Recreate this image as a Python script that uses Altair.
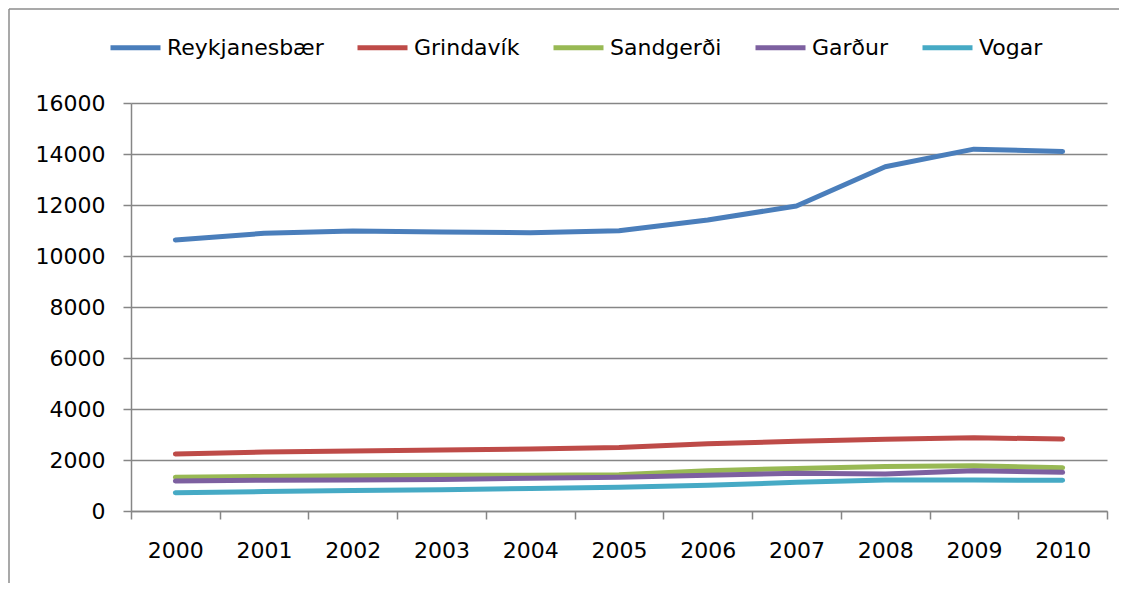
import altair as alt
import pandas as pd

years = ["2000", "2001", "2002", "2003", "2004", "2005", "2006", "2007", "2008", "2009", "2010"]
series_names = ["Reykjanesbær", "Grindavík", "Sandgerði", "Garður", "Vogar"]
reykjanesbaer = [10630, 10890, 10980, 10940, 10915, 10990, 11410, 11960, 13500, 14190, 14100]
grindavik = [2235, 2315, 2350, 2390, 2430, 2490, 2640, 2735, 2810, 2870, 2825]
sandgerdi = [1320, 1355, 1385, 1400, 1400, 1420, 1580, 1670, 1745, 1775, 1700]
gardur = [1175, 1205, 1215, 1240, 1280, 1320, 1400, 1480, 1450, 1580, 1515]
vogar = [720, 760, 800, 835, 885, 930, 1010, 1125, 1215, 1215, 1205]
colors = ["#4A7EBB", "#BE4B48", "#98B954", "#7D60A0", "#46AAC5"]

rows = []
for name, vals in zip(series_names, [reykjanesbaer, grindavik, sandgerdi, gardur, vogar]):
    for y, v in zip(years, vals):
        rows.append({"Ár": y, "Sveitarfélag": name, "Íbúar": v})
df = pd.DataFrame(rows)

FONT = "DejaVu Sans"
GRAY = "#868686"
W, H = 976, 408

lines = alt.Chart(df).mark_line(strokeWidth=5, strokeCap="round", strokeJoin="round").encode(
    x=alt.X("Ár:O", sort=years, bandPosition=0.5,
            scale=alt.Scale(type="band", paddingInner=0, paddingOuter=0),
            axis=alt.Axis(title=None, labelAngle=0, tickBand="extent", grid=False,
                          domainColor=GRAY, domainWidth=1.5, tickColor=GRAY, tickWidth=1.5,
                          tickSize=8, labelPadding=21, labelFont=FONT, labelFontSize=22,
                          labelColor="#000000")),
    y=alt.Y("Íbúar:Q", scale=alt.Scale(domain=[0, 16000], nice=False),
            axis=alt.Axis(title=None, values=list(range(0, 16001, 2000)), format="d",
                          grid=True, gridColor=GRAY, gridWidth=1.3,
                          domainColor=GRAY, domainWidth=1.5, tickColor=GRAY, tickWidth=1.5,
                          tickSize=8, labelPadding=18, labelFont=FONT, labelFontSize=22,
                          labelColor="#000000")),
    color=alt.Color("Sveitarfélag:N", sort=series_names,
                    scale=alt.Scale(domain=series_names, range=colors),
                    legend=alt.Legend(title=None, orient="none", legendX=-23, legendY=-83,
                                      direction="horizontal", symbolType="stroke",
                                      symbolSize=2500, symbolStrokeWidth=5,
                                      labelFont=FONT, labelFontSize=22, labelColor="#000000",
                                      labelOffset=4, columnPadding=23, labelLimit=300)),
)

frame_data = alt.Data(values=[{}])
frame_left = alt.Chart(frame_data).mark_rule(stroke="#8c8c8c", strokeWidth=1.5).encode(
    x=alt.value(-122), y=alt.value(-94), y2=alt.value(520)
)
frame_top = alt.Chart(frame_data).mark_rule(stroke="#8c8c8c", strokeWidth=1.5).encode(
    x=alt.value(-122), x2=alt.value(1020), y=alt.value(-94)
)

chart = alt.layer(frame_left, frame_top, lines).properties(
    width=W, height=H,
    autosize=alt.AutoSizeParams(type="none"),
    padding={"left": 123, "top": 95, "right": 12, "bottom": 72},
).configure_view(stroke=None)

chart.save("out.html", embed_options={"renderer": "svg", "actions": False})
